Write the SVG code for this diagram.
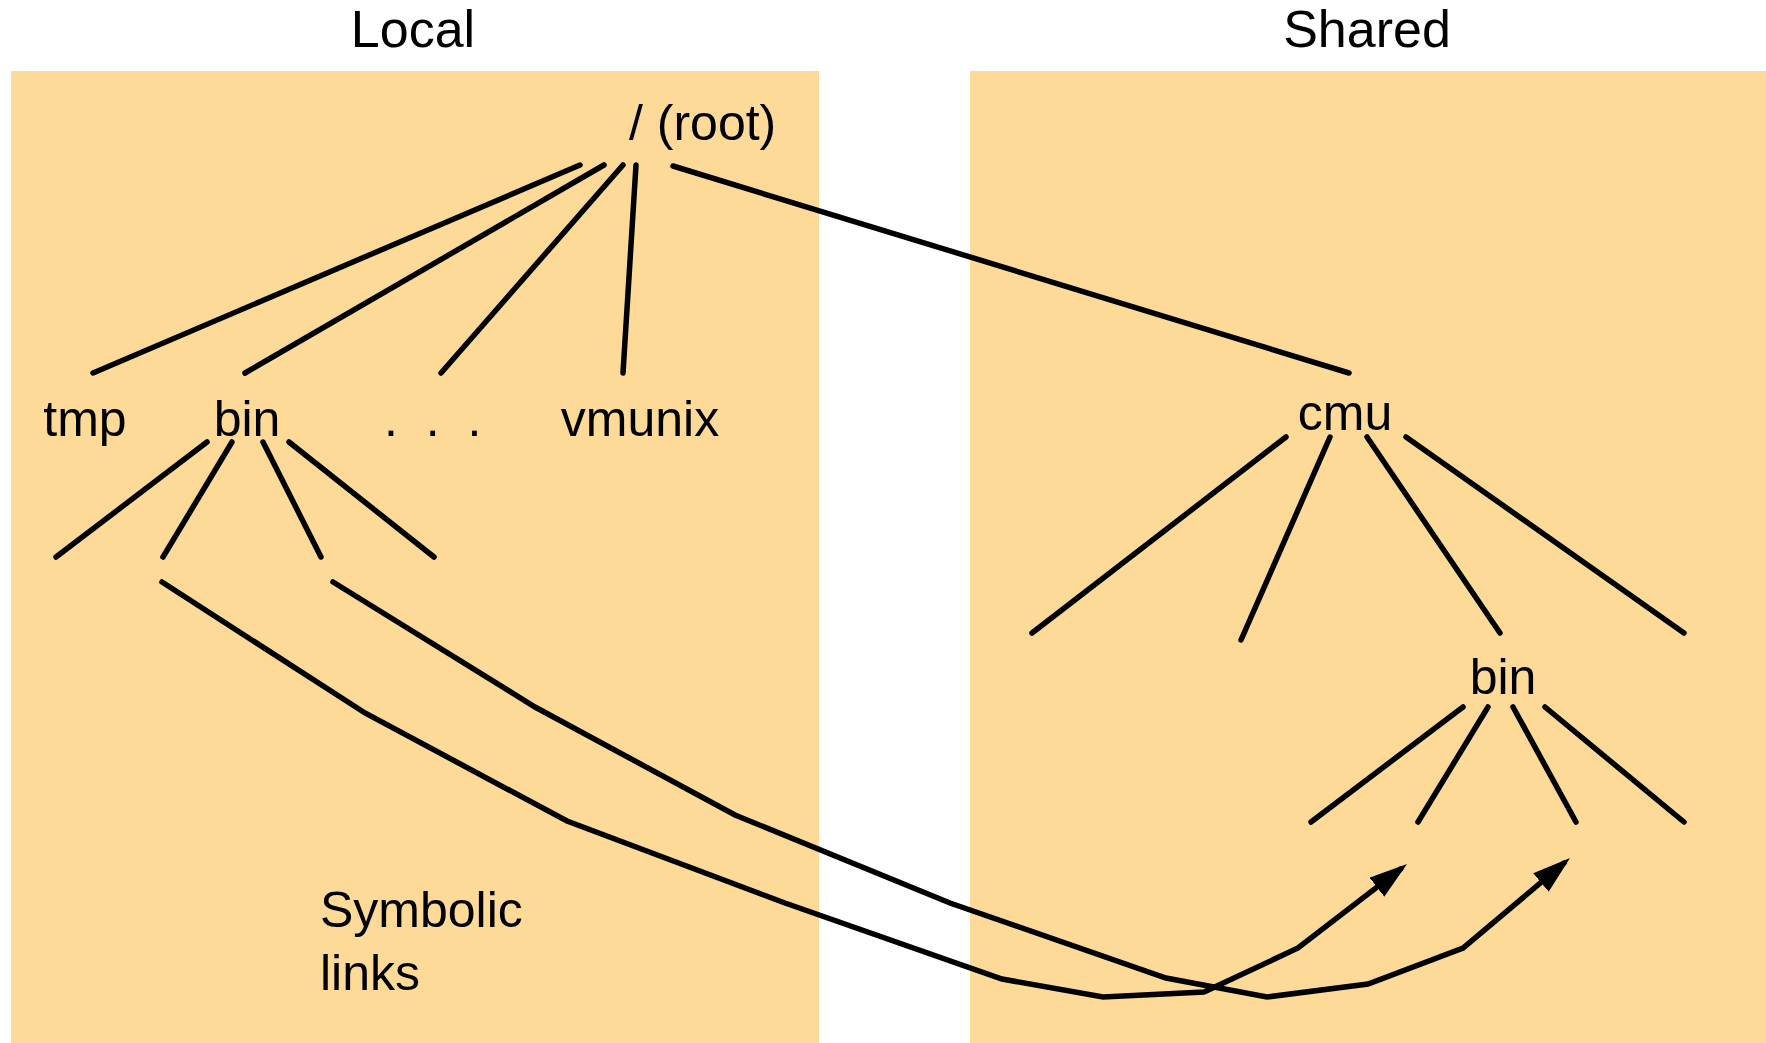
<svg xmlns="http://www.w3.org/2000/svg" width="1766" height="1043" viewBox="0 0 1766 1043">
  <style>
    .panel { fill: #FDDA98; }
    .label { font-family: "Liberation Sans", Arial, sans-serif; font-size: 50px; fill: #000; }
    .title { font-size: 52px; text-anchor: middle; }
    .mid { text-anchor: middle; }
    .edge { fill: none; stroke: #000; stroke-width: 5.5; stroke-linecap: round; stroke-linejoin: miter; }
  </style>
  <defs>
    <marker id="arrow" markerUnits="userSpaceOnUse" viewBox="0 0 38 24" refX="30" refY="12" markerWidth="38" markerHeight="24" orient="auto">
      <path d="M0,0 L38,12 L0,24 Z" fill="#000"/>
    </marker>
  </defs>

  <rect width="1766" height="1043" fill="#fff"/>

  <!-- the two file-system areas -->
  <g id="panels">
    <rect id="panel-local" class="panel" x="11" y="71" width="808" height="972"/>
    <rect id="panel-shared" class="panel" x="970" y="71" width="796" height="972"/>
  </g>

  <g id="titles">
    <g id="title-local"><text class="label title" x="413" y="47">Local</text></g>
    <g id="title-shared"><text class="label title" x="1367" y="47">Shared</text></g>
  </g>

  <!-- tree edges and symbolic links -->
  <g id="connectors">
    <!-- root to its children -->
    <line class="edge" x1="580" y1="165" x2="93" y2="373"/>
    <line class="edge" x1="604" y1="165" x2="245" y2="373"/>
    <line class="edge" x1="623" y1="165" x2="441" y2="373"/>
    <line class="edge" x1="636" y1="165" x2="623" y2="373"/>
    <line class="edge" x1="673" y1="166" x2="1349" y2="373"/>
    <!-- local bin entries -->
    <line class="edge" x1="207" y1="442" x2="56" y2="557"/>
    <line class="edge" x1="232" y1="442" x2="163" y2="557"/>
    <line class="edge" x1="263" y1="442" x2="321" y2="557"/>
    <line class="edge" x1="289" y1="442" x2="434" y2="557"/>
    <!-- cmu entries -->
    <line class="edge" x1="1286" y1="437" x2="1032" y2="633"/>
    <line class="edge" x1="1330" y1="437" x2="1241" y2="640"/>
    <line class="edge" x1="1367" y1="437" x2="1500" y2="633"/>
    <line class="edge" x1="1406" y1="437" x2="1684" y2="633"/>
    <!-- shared bin entries -->
    <line class="edge" x1="1463" y1="707" x2="1311" y2="822"/>
    <line class="edge" x1="1488" y1="707" x2="1418" y2="822"/>
    <line class="edge" x1="1513" y1="707" x2="1576" y2="822"/>
    <line class="edge" x1="1545" y1="707" x2="1684" y2="822"/>
    <!-- symbolic links -->
    <polyline class="edge" marker-end="url(#arrow)" points="162,582 365,713 567,821 785,903 1002,979 1103,997 1204,992 1298,948 1400.7,868.9"/>
    <polyline class="edge" marker-end="url(#arrow)" points="333,582 535,707 735,815 950,903 1166,978 1267,997 1368,984 1463,948 1563.9,863.2"/>
  </g>

  <g id="node-root"><text class="label" x="629" y="140">/ (root)</text></g>
  <g id="node-tmp"><text class="label mid" x="85" y="436">tmp</text></g>
  <g id="node-bin"><text class="label mid" x="247" y="436">bin</text></g>
  <g id="node-more"><text class="label" x="384" y="436" word-spacing="14">. . .</text></g>
  <g id="node-vmunix"><text class="label mid" x="640" y="436">vmunix</text></g>
  <g id="node-cmu"><text class="label mid" x="1345" y="430">cmu</text></g>
  <g id="node-cmu-bin"><text class="label mid" x="1503" y="694">bin</text></g>
  <g id="label-symlinks">
    <text class="label" x="320" y="927">Symbolic</text>
    <text class="label" x="320" y="990">links</text>
  </g>
</svg>
